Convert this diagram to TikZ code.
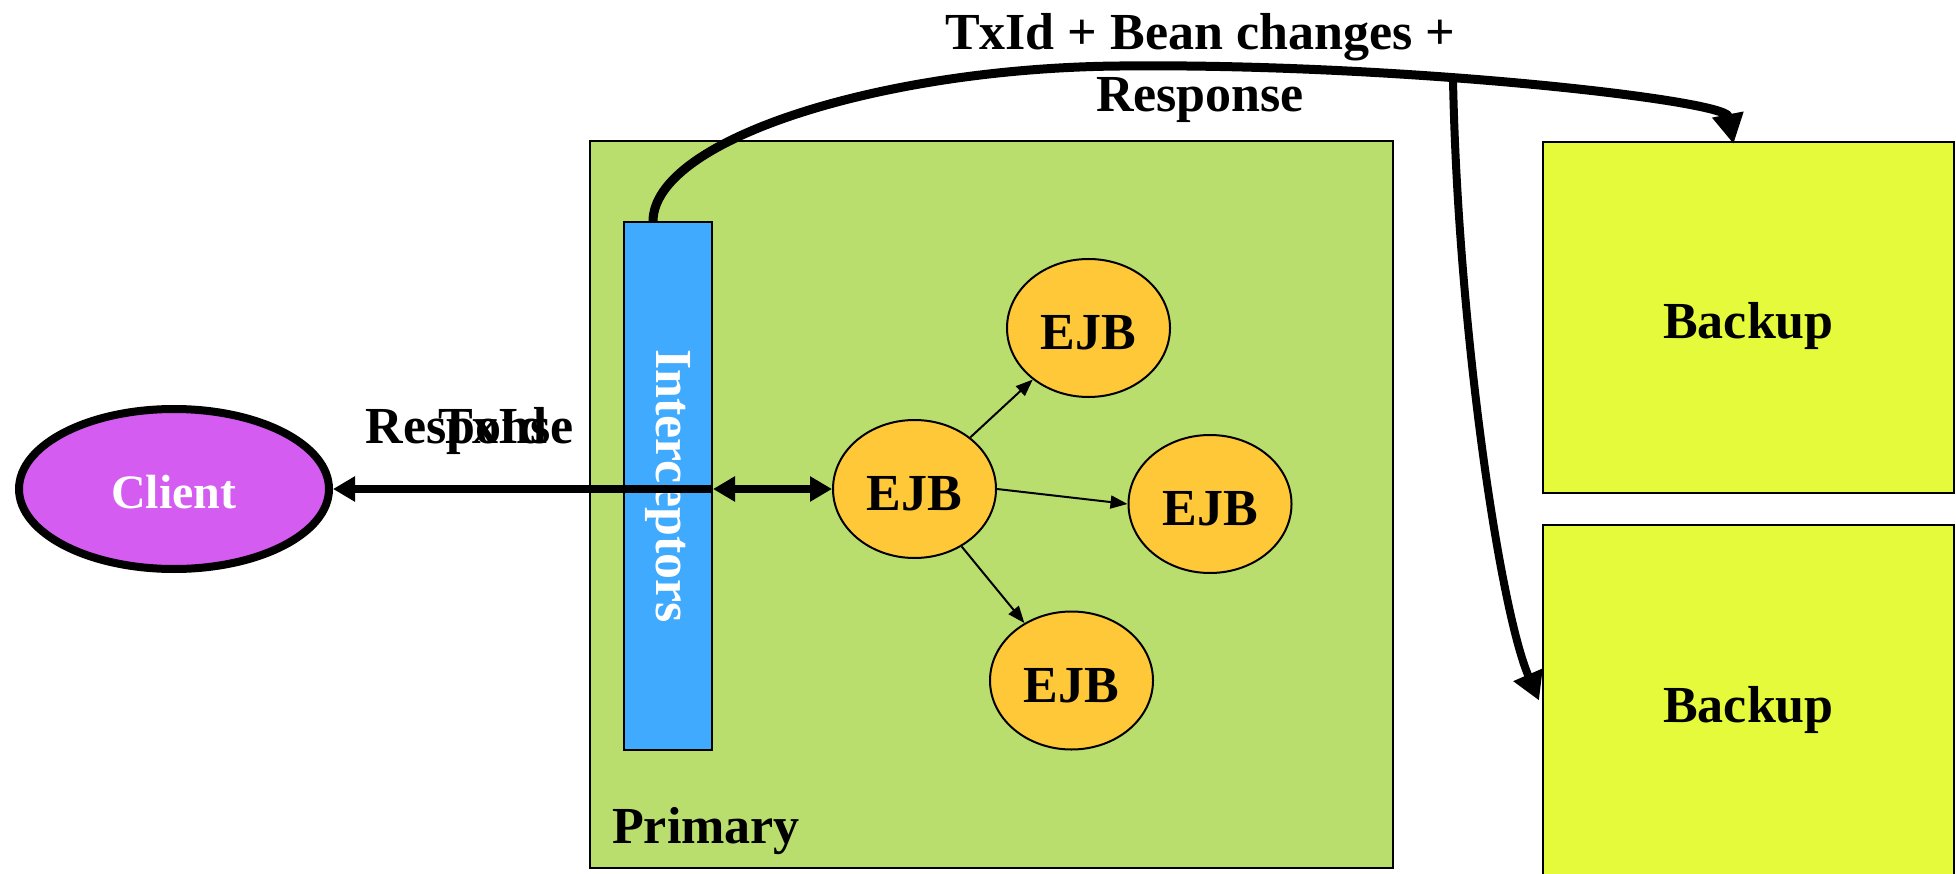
\documentclass[tikz,border=0pt]{standalone}
\usepackage{fontspec}
\setmainfont{Liberation Serif}
\usetikzlibrary{shapes.geometric,arrows.meta,calc}

\definecolor{primarygreen}{RGB}{186,222,110}
\definecolor{backupyellow}{RGB}{228,250,58}
\definecolor{interblue}{RGB}{64,170,255}
\definecolor{ejborange}{RGB}{255,200,56}
\definecolor{clientpurple}{RGB}{212,92,240}

\begin{document}
\begin{tikzpicture}[x=1pt,y=-1pt,
  font=\bfseries\fontsize{52}{62}\selectfont,
  box/.style={rectangle,draw=black,line width=2pt,inner sep=0pt},
  centred/.style={text height=43pt,text depth=0pt},
  ejb/.style={ellipse,draw=black,line width=2pt,fill=ejborange,
              minimum width=163pt,minimum height=138pt,inner sep=0pt,centred},
  call/.style={line width=2pt,-{Triangle[length=17pt,width=13pt]}},
  wire/.style={line width=8pt},
  flow/.style={line width=9pt,-{Triangle[length=30pt,width=30pt]}},
  branchflow/.style={line width=8pt,-{Triangle[length=28pt,width=30pt]}}
]
\useasboundingbox (0,0) rectangle (1956,874);

% primary server
\node[box,fill=primarygreen,minimum width=803pt,minimum height=727pt] (primary) at (991.5,504.5) {};
\node[anchor=base west,inner sep=0pt] (primarylabel) at (612,843) {Primary};

% interceptor chain
\node[box,fill=interblue,minimum width=88pt,minimum height=528pt] (ic) at (668,486) {};
\node[text=white,rotate=-90,inner sep=0pt] (iclabel) at (ic.center) {Interceptors};

% backup servers
\node[box,fill=backupyellow,minimum width=411pt,minimum height=351pt,centred] (b1) at (1748.5,317.5) {Backup};
\node[box,fill=backupyellow,minimum width=411pt,minimum height=351pt,centred] (b2) at (1748.5,700.5) {Backup};

% client
\node[ellipse,draw=black,line width=8pt,fill=clientpurple,text=white,
      minimum width=310pt,minimum height=160pt,inner sep=0pt,
      font=\bfseries\fontsize{48}{56}\selectfont,text height=38pt,text depth=0pt] (client) at (174,489) {Client};

% beans
\node[ejb] (ejb) at (914.5,489) {EJB};
\node[ejb] (ejbtop) at (1088.5,328) {EJB};
\node[ejb] (ejbright) at (1210,504) {EJB};
\node[ejb] (ejbbot) at (1071.5,680.5) {EJB};

\draw[call] (ejb) -- (ejbtop);
\draw[call] (ejb.east) -- (ejbright.west);
\draw[call] (ejb) -- (ejbbot);

% request / response between client, interceptors and bean
\draw[wire,-{Triangle[length=22pt,width=24pt]}] (ic.east |- client.east) -- (client.east);
\draw[wire,{Triangle[length=22pt,width=24pt]}-{Triangle[length=22pt,width=24pt]}] (ic.east |- ejb.west) -- (ejb.west);
\node[anchor=base] (resplabel) at (470,443) {Response};
\node[anchor=base] (txidlabel) at (493,443) {TxId};

% replication to the backups
\draw[flow] ([xshift=30pt]ic.north west) .. controls (654,140) and (880,68) .. (1120,66)
            .. controls (1400,63) and (1725,100) .. ([xshift=-15pt,yshift=-3pt]b1.north);
\coordinate (branch) at (1453,80);
\draw[branchflow] (branch) .. controls (1458,330) and (1500,610) .. ([xshift=-3pt]b2.west);

\node[align=center,anchor=north,inner sep=0pt] (replabel) at (1200,13) {TxId + Bean changes +\\Response};
\end{tikzpicture}
\end{document}
